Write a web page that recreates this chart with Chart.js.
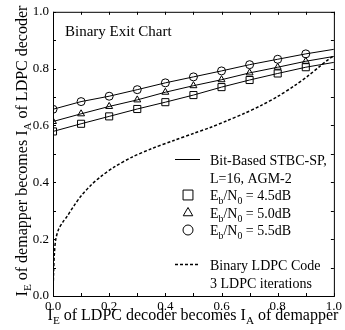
<!DOCTYPE html>
<html lang="en">
<head>
    <meta charset="UTF-8">
    <title>Binary Exit Chart</title>
    <script src="https://cdn.jsdelivr.net/npm/chart.js"></script>
    <style>
        html, body { margin: 0; padding: 0; background: #fff; }
        #wrap { width: 345px; height: 330px; position: relative; }
    </style>
</head>
<body>
    <div id="wrap"><canvas id="exitChart"></canvas></div>

    <script>
        // --- DATA ---
        const ieLdpc = [0.0, 0.1, 0.2, 0.3, 0.4, 0.5, 0.6, 0.7, 0.8, 0.9, 1.0];
        const demap45 = [0.579, 0.606, 0.632, 0.658, 0.682, 0.707, 0.735, 0.760, 0.783, 0.805, 0.822];
        const demap50 = [0.614, 0.641, 0.667, 0.690, 0.717, 0.740, 0.761, 0.785, 0.805, 0.826, 0.843];
        const demap55 = [0.657, 0.684, 0.703, 0.726, 0.750, 0.771, 0.792, 0.814, 0.833, 0.852, 0.868];

        // LDPC decoder curve, axes swapped (x = IE of decoder, y = IA of decoder)
        const ldpcX = [0.0, 0.002, 0.005, 0.01, 0.02, 0.035, 0.05, 0.075, 0.1, 0.135, 0.17, 0.22, 0.28, 0.35, 0.43, 0.5, 0.56, 0.62, 0.68, 0.74, 0.8, 0.86, 0.91, 0.95, 0.98, 1.0];
        const ldpcY = [0.0, 0.08, 0.15, 0.2, 0.235, 0.26, 0.28, 0.318, 0.352, 0.39, 0.42, 0.455, 0.488, 0.518, 0.547, 0.572, 0.593, 0.617, 0.642, 0.67, 0.702, 0.74, 0.776, 0.808, 0.832, 0.845];

        const tickValues = [0.0, 0.2, 0.4, 0.6, 0.8, 1.0];

        const serif = '"Liberation Serif", "DejaVu Serif", serif';

        const pts = (ys) => ys.map((y, i) => ({ x: ieLdpc[i], y: y }));
        const ldpcPts = ldpcX.map((x, i) => ({ x: x, y: ldpcY[i] }));

        function curve(data, style, r) {
            return {
                data: data,
                borderColor: '#000',
                backgroundColor: 'rgba(0,0,0,0)',
                borderWidth: 1,
                pointStyle: style,
                // no marker drawn at the right edge
                pointRadius: ieLdpc.map(x => x >= 1.0 ? 0 : r),
                pointBorderWidth: 1,
                pointBorderColor: '#000',
                pointBackgroundColor: 'rgba(0,0,0,0)',
                tension: 0,
                fill: false
            };
        }

        // text with subscripts: parts = [[text, isSub], ...]
        function drawRich(ctx, parts, x, y, size) {
            let cx = x;
            parts.forEach(([txt, sub]) => {
                const fs = sub ? size * 0.7 : size;
                ctx.font = fs + 'px ' + serif;
                ctx.fillText(txt, cx, sub ? y + size * 0.25 : y);
                cx += ctx.measureText(txt).width;
            });
            return cx - x;
        }
        function richWidth(ctx, parts, size) {
            let w = 0;
            parts.forEach(([txt, sub]) => {
                ctx.font = (sub ? size * 0.7 : size) + 'px ' + serif;
                w += ctx.measureText(txt).width;
            });
            return w;
        }

        const decorPlugin = {
            id: 'decor',
            afterDraw(chart) {
                const ctx = chart.ctx;
                const a = chart.chartArea;
                const xs = chart.scales.x, ys = chart.scales.y;
                ctx.save();
                ctx.strokeStyle = '#000';
                ctx.fillStyle = '#000';
                ctx.lineWidth = 1;
                ctx.setLineDash([]);
                // frame
                ctx.strokeRect(a.left + 0.5, a.top + 0.5, a.right - a.left, a.bottom - a.top);
                // inward ticks
                ctx.beginPath();
                for (let i = 0; i <= 10; i++) {
                    const v = i / 10;
                    const px = Math.round(xs.getPixelForValue(v)) + 0.5;
                    const py = Math.round(ys.getPixelForValue(v)) + 0.5;
                    ctx.moveTo(px, a.bottom); ctx.lineTo(px, a.bottom - 3);
                    ctx.moveTo(px, a.top); ctx.lineTo(px, a.top + 3);
                    ctx.moveTo(a.left, py); ctx.lineTo(a.left + 3, py);
                    ctx.moveTo(a.right, py); ctx.lineTo(a.right - 3, py);
                }
                ctx.stroke();

                ctx.textBaseline = 'alphabetic';
                ctx.textAlign = 'left';

                // title inside plot
                ctx.font = '15px ' + serif;
                ctx.fillText('Binary Exit Chart', 65, 36);

                // axis titles
                const xt = [['I', false], ['E', true], [' of LDPC decoder becomes I', false], ['A', true], [' of demapper', false]];
                const xw = richWidth(ctx, xt, 16);
                drawRich(ctx, xt, 193 - xw / 2, 320, 16);

                const yt = [['I', false], ['E', true], [' of demapper becomes I', false], ['A', true], [' of LDPC decoder', false]];
                const yw = richWidth(ctx, yt, 16);
                ctx.save();
                ctx.translate(27, 151);
                ctx.rotate(-Math.PI / 2);
                drawRich(ctx, yt, -yw / 2, 0, 16);
                ctx.restore();

                // legend
                const fs = 14;
                const lx0 = 175, lx1 = 200, tx = 210;
                ctx.beginPath();
                ctx.moveTo(lx0, 159.5); ctx.lineTo(lx1, 159.5);
                ctx.stroke();
                ctx.font = fs + 'px ' + serif;
                ctx.fillText('Bit-Based STBC-SP,', tx, 165);
                ctx.fillText('L=16, AGM-2', tx, 183);

                const rows = [['rect', 7, 200, '4.5dB'], ['triangle', 5.5, 218, '5.0dB'], ['circle', 5, 235, '5.5dB']];
                rows.forEach(([style, r, y, lab]) => {
                    ctx.save();
                    ctx.fillStyle = 'rgba(0,0,0,0)';
                    Chart.helpers.drawPoint(ctx, {
                        pointStyle: style, radius: r, borderWidth: 1, rotation: 0
                    }, 188, y - 5);
                    ctx.restore();
                    drawRich(ctx, [['E', false], ['b', true], ['/N', false], ['0', true], [' = ' + lab, false]], tx, y, fs);
                });

                ctx.setLineDash([3, 2]);
                ctx.lineWidth = 1.5;
                ctx.beginPath();
                ctx.moveTo(lx0, 264.5); ctx.lineTo(lx1, 264.5);
                ctx.stroke();
                ctx.setLineDash([]);
                ctx.font = fs + 'px ' + serif;
                ctx.fillText('Binary LDPC Code', tx, 270);
                ctx.fillText('3 LDPC iterations', tx, 288);
                ctx.restore();
            }
        };

        new Chart(document.getElementById('exitChart'), {
            type: 'line',
            data: {
                datasets: [
                    curve(pts(demap45), 'rect', 5),
                    curve(pts(demap50), 'triangle', 4),
                    curve(pts(demap55), 'circle', 4),
                    {
                        data: ldpcPts,
                        borderColor: '#000',
                        borderWidth: 1.5,
                        borderDash: [3, 2],
                        pointRadius: 0,
                        tension: 0.3,
                        fill: false
                    }
                ]
            },
            options: {
                responsive: true,
                maintainAspectRatio: false,
                animation: false,
                events: [],
                layout: { autoPadding: false, padding: { left: 0, right: 6, top: 10, bottom: 0 } },
                plugins: { legend: { display: false }, tooltip: { enabled: false } },
                scales: {
                    x: {
                        type: 'linear', min: 0, max: 1,
                        afterFit: (s) => { s.height = 34; },
                        afterBuildTicks: (s) => { s.ticks = tickValues.map(v => ({ value: v })); },
                        grid: { display: false, drawTicks: false },
                        border: { display: false },
                        ticks: {
                            padding: 3, color: '#000', maxRotation: 0, autoSkip: false,
                            font: { family: serif, size: 13 },
                            callback: (v) => v.toFixed(1)
                        }
                    },
                    y: {
                        type: 'linear', min: 0, max: 1,
                        afterFit: (s) => { s.width = 53; },
                        afterBuildTicks: (s) => { s.ticks = tickValues.map(v => ({ value: v })); },
                        grid: { display: false, drawTicks: false },
                        border: { display: false },
                        ticks: {
                            padding: 4, color: '#000', autoSkip: false,
                            font: { family: serif, size: 13 },
                            callback: (v) => v.toFixed(1)
                        }
                    }
                }
            },
            plugins: [decorPlugin]
        });
    </script>
</body>
</html>
